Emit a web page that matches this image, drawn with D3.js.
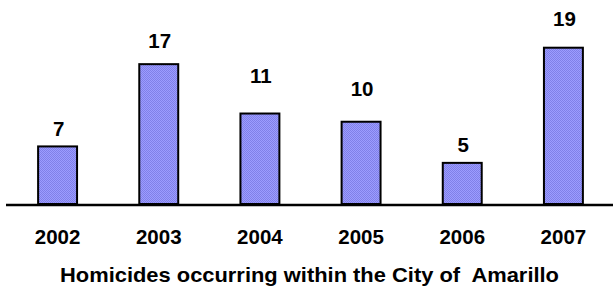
<!DOCTYPE html>
<html>
<head>
<meta charset="utf-8">
<script src="https://cdn.jsdelivr.net/npm/d3@7"></script>
<style>
  html, body { margin: 0; padding: 0; background: #fff; }
  svg { display: block; }
</style>
</head>
<body>
<svg id="chart"></svg>
<script>
// --- Data ---
const years = ["2002", "2003", "2004", "2005", "2006", "2007"];
const homicides = [7, 17, 11, 10, 5, 19];
const title = "Homicides occurring within the City of\u00a0 Amarillo";

// value labels sit at uneven heights above each bar in the original
const labelGap = [9, 15, 30, 25, 10, 21];

const width = 613, height = 290;
const baseline = 205;
const font = "'Liberation Sans', Arial, sans-serif";

const svg = d3.select("#chart").attr("width", width).attr("height", height);

// dotted blue fill
const defs = svg.append("defs");
const pat = defs.append("pattern")
  .attr("id", "dots")
  .attr("width", 2).attr("height", 2)
  .attr("patternUnits", "userSpaceOnUse");
pat.append("rect").attr("width", 2).attr("height", 2).attr("fill", "#9c9cff");
pat.append("rect").attr("width", 1).attr("height", 1).attr("fill", "#8080e8");
pat.append("rect").attr("x", 1).attr("y", 1).attr("width", 1).attr("height", 1).attr("fill", "#8080e8");

// --- Scales ---
const x = d3.scaleBand()
  .domain(years)
  .range([7, 614])
  .paddingInner(0.615)
  .paddingOuter(0.3075);

const y = d3.scaleLinear()
  .domain([0, 24.8])
  .range([baseline - 1, 0]);

// --- Bars ---
svg.append("g")
  .selectAll("rect")
  .data(homicides)
  .join("rect")
  .attr("x", (d, i) => x(years[i]))
  .attr("y", d => y(d))
  .attr("width", x.bandwidth())
  .attr("height", d => y(0) - y(d))
  .attr("fill", "url(#dots)")
  .attr("stroke", "#000")
  .attr("stroke-width", 2);

// --- Baseline ---
svg.append("line")
  .attr("x1", 6).attr("x2", width)
  .attr("y1", baseline).attr("y2", baseline)
  .attr("stroke", "#000")
  .attr("stroke-width", 2.5);

// --- Value labels ---
svg.append("g")
  .selectAll("text")
  .data(homicides)
  .join("text")
  .attr("x", (d, i) => x(years[i]) + x.bandwidth() / 2 + 1)
  .attr("y", (d, i) => y(d) - 1 - labelGap[i])
  .attr("text-anchor", "middle")
  .style("font-family", font)
  .style("font-weight", "bold")
  .style("font-size", "20.5px")
  .attr("fill", "#000")
  .text(d => d);

// --- Category labels ---
svg.append("g")
  .selectAll("text")
  .data(years)
  .join("text")
  .attr("x", d => x(d) + x.bandwidth() / 2)
  .attr("y", 244)
  .attr("text-anchor", "middle")
  .style("font-family", font)
  .style("font-weight", "bold")
  .style("font-size", "20.5px")
  .attr("fill", "#000")
  .text(d => d);

// --- Title ---
svg.append("text")
  .attr("x", 60)
  .attr("y", 282)
  .attr("textLength", 499)
  .attr("lengthAdjust", "spacingAndGlyphs")
  .style("font-family", font)
  .style("font-weight", "bold")
  .style("font-size", "21px")
  .attr("fill", "#000")
  .text(title);
</script>
</body>
</html>
